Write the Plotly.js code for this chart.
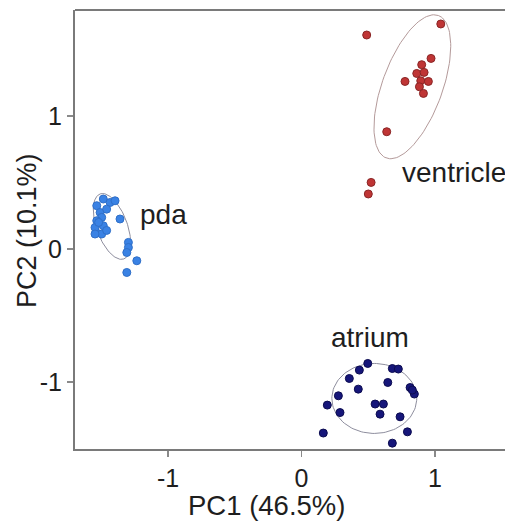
<!DOCTYPE html>
<html>
<head>
<meta charset="utf-8">
<script src="https://cdn.plot.ly/plotly-3.0.1.min.js"></script>
<style>
html,body{margin:0;padding:0;background:#fff;overflow:hidden;}
#chart{width:505px;height:523px;}
</style>
</head>
<body>
<div id="chart"></div>
<script>
// ---- data ----
const groups = ["pda", "ventricle", "atrium"];

const pdaPC1 = [-1.485, -1.434, -1.397, -1.534, -1.509, -1.497, -1.534, -1.485, -1.539, -1.497,
                -1.547, -1.360, -1.297, -1.297, -1.309, -1.234, -1.309, -1.547, -1.460, -1.520, -1.460];
const pdaPC2 = [0.376, 0.350, 0.363, 0.326, 0.275, 0.238, 0.213, 0.175, 0.125, 0.113,
                0.162, 0.226, 0.050, 0.012, -0.026, -0.088, -0.176, 0.113, 0.300, 0.200, 0.140];

const ventPC1 = [0.488, 1.043, 0.970, 0.900, 0.863, 0.918, 0.893, 0.950, 0.775, 0.883, 0.913, 0.638, 0.521, 0.500];
const ventPC2 = [1.609, 1.692, 1.433, 1.386, 1.320, 1.328, 1.265, 1.260, 1.260, 1.220, 1.170, 0.882, 0.501, 0.414];

const atrPC1 = [0.496, 0.433, 0.358, 0.425, 0.276, 0.193, 0.288, 0.163, 0.680, 0.725,
                0.646, 0.813, 0.845, 0.551, 0.613, 0.588, 0.738, 0.793, 0.680, 0.830];
const atrPC2 = [-0.860, -0.910, -0.973, -1.053, -1.103, -1.173, -1.229, -1.383, -0.898, -0.902,
                -1.003, -1.041, -1.090, -1.165, -1.165, -1.241, -1.261, -1.374, -1.459, -1.060];

// ellipse parameters per group (centre, semi-axes, rotation in degrees)
const ellCx = [-1.42, 0.83, 0.545];
const ellCy = [0.17, 1.22, -1.123];
const ellA = [0.26, 0.57, 0.318];
const ellB = [0.115, 0.225, 0.263];
const ellAng = [-70, 70, 0];

const xTicks = [-1, 0, 1];
const yTicks = [-1, 0, 1];
const xTitle = "PC1 (46.5%)";
const yTitle = "PC2 (10.1%)";

// ---- styles ----
const colors = ["#3a82e4", "#bf3535", "#16167a"];
const edge = ["#2f6fc8", "#8a2626", "#0c0c50"];
const FONT = "Liberation Sans, Arial, Helvetica, sans-serif";
const TXT = "#1e1e1e";

function ellipse(cx, cy, a, b, angDeg) {
  const t = angDeg * Math.PI / 180, xs = [], ys = [];
  for (let i = 0; i <= 120; i++) {
    const u = 2 * Math.PI * i / 120;
    const ex = a * Math.cos(u), ey = b * Math.sin(u);
    xs.push(cx + ex * Math.cos(t) - ey * Math.sin(t));
    ys.push(cy + ex * Math.sin(t) + ey * Math.cos(t));
  }
  return {xs, ys};
}

const pts = [[pdaPC1, pdaPC2], [ventPC1, ventPC2], [atrPC1, atrPC2]];
const traces = [];
groups.forEach((g, i) => {
  const e = ellipse(ellCx[i], ellCy[i], ellA[i], ellB[i], ellAng[i]);
  traces.push({
    x: e.xs, y: e.ys, mode: "lines", type: "scatter", hoverinfo: "skip",
    line: {color: i === 1 ? "#b49a9a" : "#8e8e9e", width: 1}, showlegend: false
  });
});
groups.forEach((g, i) => {
  traces.push({
    x: pts[i][0], y: pts[i][1], mode: "markers", type: "scatter", name: g,
    marker: {color: colors[i], size: 8, line: {color: edge[i], width: 1}}, showlegend: false
  });
});

const layout = {
  width: 505, height: 523,
  margin: {l: 75, r: 0, t: 10, b: 74},
  paper_bgcolor: "#fff", plot_bgcolor: "#fff",
  font: {family: FONT, color: TXT, size: 25},
  xaxis: {
    range: [-1.697, 1.524], tickvals: xTicks, ticktext: xTicks.map(String),
    showgrid: false, zeroline: false, showline: true, linecolor: "#7a7a7a", linewidth: 2,
    ticks: "outside", ticklen: 6, tickwidth: 1.5, tickcolor: "#8a8a8a",
    tickfont: {size: 25, family: FONT, color: TXT}, fixedrange: true
  },
  yaxis: {
    range: [-1.503, 1.797], tickvals: yTicks, ticktext: yTicks.map(String),
    showgrid: false, zeroline: false, showline: true, linecolor: "#7a7a7a", linewidth: 2,
    ticks: "outside", ticklen: 6, tickwidth: 1.5, tickcolor: "#8a8a8a",
    tickfont: {size: 25, family: FONT, color: TXT}, fixedrange: true
  },
  shapes: [{type: "line", xref: "paper", yref: "paper", x0: 0, x1: 1, y0: 1, y1: 1,
            line: {color: "#7a7a7a", width: 2}}],
  annotations: [
    {text: "pda", x: -1.037, y: 0.258, xref: "x", yref: "y", showarrow: false,
     xanchor: "center", yanchor: "middle", font: {size: 28, family: FONT, color: TXT}},
    {text: "ventricle", x: 0.738, y: 0.574, xref: "x", yref: "y", showarrow: false,
     xanchor: "left", yanchor: "middle", font: {size: 28, family: FONT, color: TXT}},
    {text: "atrium", x: 0.516, y: -0.667, xref: "x", yref: "y", showarrow: false,
     xanchor: "center", yanchor: "middle", font: {size: 28, family: FONT, color: TXT}},
    {text: xTitle, x: (266 - 75) / 430, y: 0, xref: "paper", yref: "paper", yshift: -56,
     showarrow: false, xanchor: "center", yanchor: "middle",
     font: {size: 27.5, family: FONT, color: TXT}},
    {text: yTitle, x: 0, y: (449 - 231) / 439, xref: "paper", yref: "paper", xshift: -(75 - 27),
     textangle: -90, showarrow: false, xanchor: "center", yanchor: "middle",
     font: {size: 27, family: FONT, color: TXT}}
  ]
};

Plotly.newPlot("chart", traces, layout, {displayModeBar: false, staticPlot: true});
</script>
</body>
</html>
